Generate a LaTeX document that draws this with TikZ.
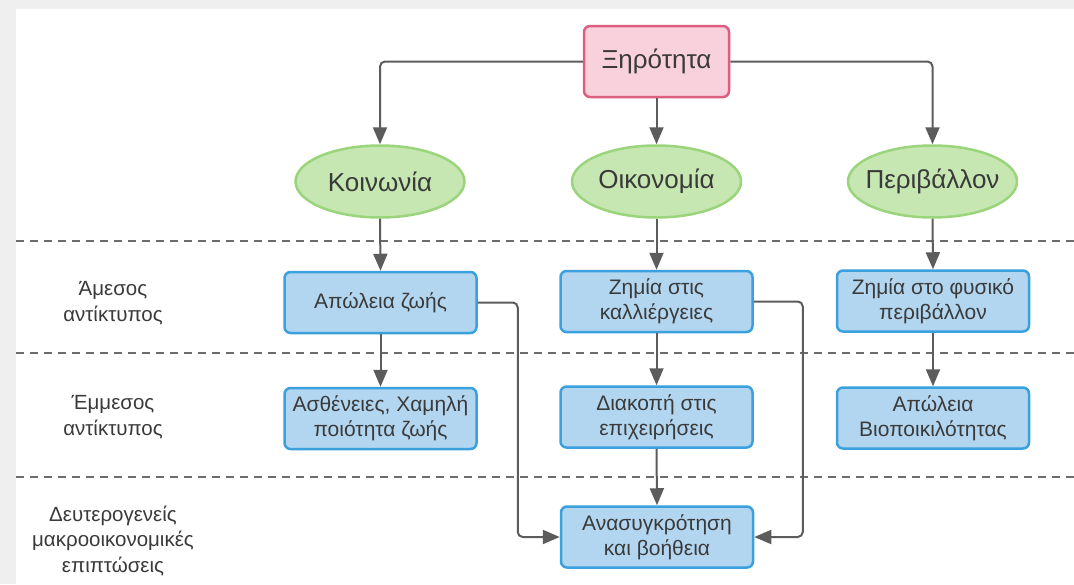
\documentclass[tikz,border=0pt]{standalone}
\usepackage{fontspec}
\setmainfont{Liberation Sans}
\usetikzlibrary{arrows.meta,shapes.geometric}
\definecolor{txt}{HTML}{3A3A3A}
\definecolor{bluefill}{HTML}{B3D6F0}
\definecolor{blueline}{HTML}{3AA0DE}
\definecolor{greenfill}{HTML}{C6E7B2}
\definecolor{greenline}{HTML}{9AD57C}
\definecolor{pinkfill}{HTML}{F9D1DD}
\definecolor{pinkline}{HTML}{DC5F82}
\definecolor{conn}{HTML}{5C5C5C}
\definecolor{bgframe}{HTML}{EFEFEF}
\begin{document}
\begin{tikzpicture}[x=1pt,y=-1pt,
  every node/.style={text=txt},
  topbox/.style={draw=pinkline,fill=pinkfill,line width=2.5pt,rounded corners=6pt,minimum width=145pt,minimum height=71pt,font=\fontsize{26}{30}\selectfont},
  cat/.style={ellipse,draw=greenline,fill=greenfill,line width=2.5pt,minimum width=169pt,minimum height=72pt,inner sep=0pt,
    label={[text=txt,font=\fontsize{26}{30}\selectfont]center:#1}},
  impact/.style={draw=blueline,fill=bluefill,line width=2.5pt,rounded corners=6pt,minimum width=192pt,minimum height=61pt,inner sep=2pt,align=center,font=\fontsize{21}{25}\selectfont},
  rowlabel/.style={align=center,font=\fontsize{20.5}{25.5}\selectfont},
  link/.style={draw=conn,line width=2pt,rounded corners=5pt,-{Triangle[length=17pt,width=14pt]}},
  sep/.style={draw=conn!90,line width=1.6pt,dash pattern=on 8pt off 6pt}
]
\useasboundingbox (0,0) rectangle (1074,584);
\fill[bgframe] (0,0) rectangle (1074,584);
\fill[white] (16,9) rectangle (1074,584);

% separators
\draw[sep] (16,241) -- (1074,241);
\draw[sep] (16,353) -- (1074,353);
\draw[sep] (16,477) -- (1074,477);

% row labels
\node[rowlabel] (l1) at (113,303) {Άμεσος\\αντίκτυπος};
\node[rowlabel] (l2) at (113,417) {Έμμεσος\\αντίκτυπος};
\node[rowlabel] (l3) at (113,541) {Δευτερογενείς\\μακροοικονομικές\\επιπτώσεις};

% nodes
\node[topbox] (top) at (656.5,61.5) {Ξηρότητα};
\node[cat=Κοινωνία] (k) at (380,181.5) {};
\node[cat=Οικονομία] (o) at (656.5,181.5) {};
\node[cat=Περιβάλλον] (p) at (932.5,181.5) {};

\node[impact] (b1) at (380.5,302.5) {Απώλεια ζωής};
\node[impact] (b2) at (656.5,301.5) {Ζημία στις\\καλλιέργειες};
\node[impact] (b3) at (933,301) {Ζημία στο φυσικό\\περιβάλλον};

\node[impact] (c1) at (380.5,418.5) {Ασθένειες, Χαμηλή\\ποιότητα ζωής};
\node[impact] (c2) at (656.5,417) {Διακοπή στις\\επιχειρήσεις};
\node[impact] (c3) at (933,418) {Απώλεια\\Βιοποικιλότητας};

\node[impact] (r) at (657,537) {Ανασυγκρότηση\\και βοήθεια};

% connectors
\draw[link] (top.west) -| (k.north);
\draw[link] (top.east) -| (p.north);
\draw[link] (top.south) -- (o.north);

\draw[link] (k.south) -- (b1.north);
\draw[link] (o.south) -- (b2.north);
\draw[link] (p.south) -- (b3.north);

\draw[link] (b1.south) -- (c1.north);
\draw[link] (b2.south) -- (c2.north);
\draw[link] (b3.south) -- (c3.north);

\draw[link] (c2.south) -- (r.north);

\draw[link] (b1.east) -- ++(40,0) |- (r.west);
\draw[link] (b2.east) -- ++(49,0) |- (r.east);
\end{tikzpicture}
\end{document}
